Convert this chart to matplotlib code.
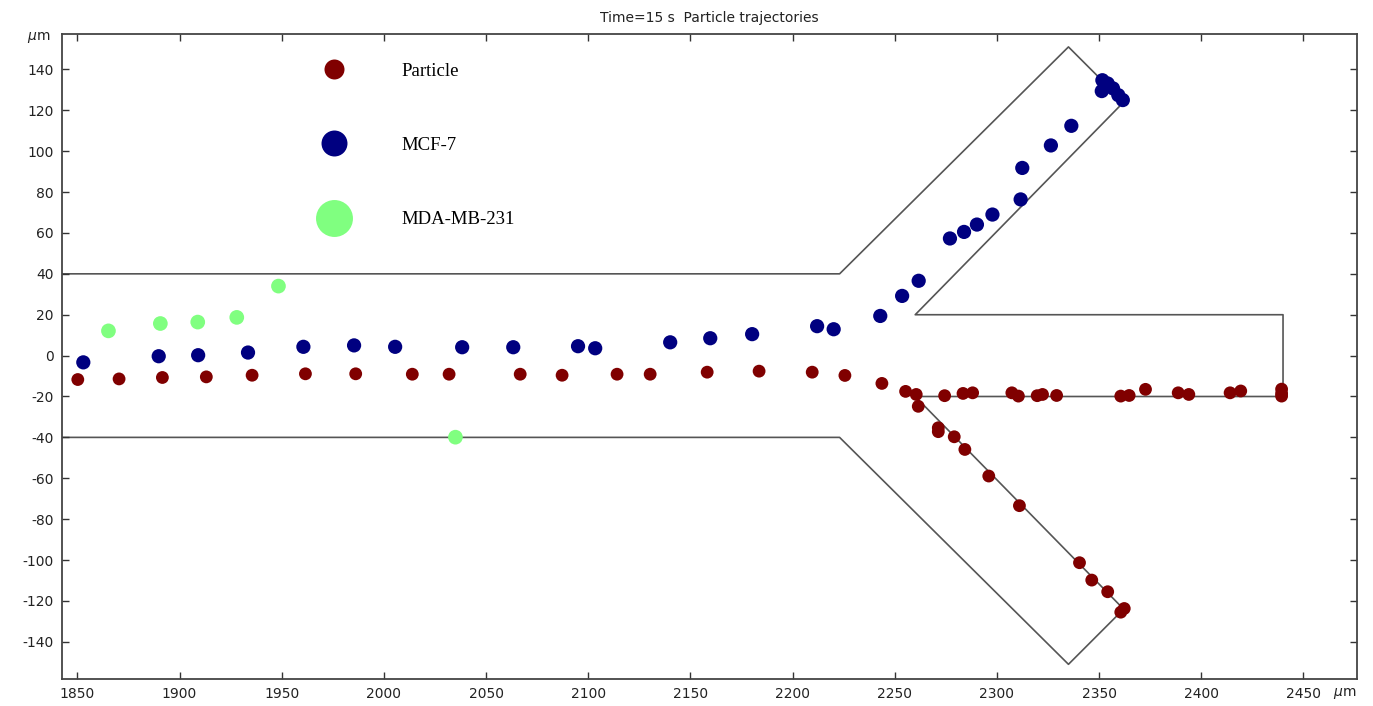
import numpy as np
import matplotlib
matplotlib.use("Agg")
import matplotlib.pyplot as plt
from matplotlib.lines import Line2D

plt.rcParams["axes.unicode_minus"] = False

# channel outline (um)
wall_top_x = [1800, 2223, 2335, 2362, 2260, 2440, 2440]
wall_top_y = [40, 40, 151, 124, 20, 20, -20]
wall_bot_x = [2440, 2260, 2362, 2335, 2223, 1800]
wall_bot_y = [-20, -20, -124, -151, -40, -40]

# particle positions at t = 15 s
particle_x = [1850.2, 1870.4, 1891.6, 1913.1, 1935.5, 1961.6, 1986.2, 2013.9, 2031.9, 2066.7,
              2087.2, 2114.1, 2130.3, 2158.2, 2183.6, 2209.6, 2225.6, 2243.7, 2255.3, 2260.5,
              2261.5, 2274.4, 2283.4, 2288.1, 2271.3, 2271.3, 2279.1, 2284.3, 2296.0, 2311.0,
              2307.3, 2310.5, 2319.7, 2322.3, 2329.2, 2360.6, 2364.7, 2372.7, 2388.7, 2393.9,
              2414.1, 2419.3, 2439.3, 2439.3, 2439.3, 2340.4, 2346.4, 2354.2, 2360.6, 2362.3]
particle_y = [-11.7, -11.4, -10.7, -10.4, -9.6, -8.9, -8.9, -9.1, -9.1, -9.1,
              -9.6, -9.1, -9.1, -8.1, -7.6, -8.1, -9.7, -13.6, -17.5, -19.0,
              -24.8, -19.6, -18.5, -18.2, -35.3, -37.2, -39.7, -45.9, -58.9, -73.4,
              -18.2, -19.8, -19.6, -19.0, -19.5, -19.8, -19.5, -16.5, -18.2, -19.0,
              -18.2, -17.3, -16.4, -18.5, -19.8, -101.3, -109.8, -115.5, -125.5, -123.7]

mcf7_x = [1852.9, 1889.8, 1909.1, 1933.5, 1960.6, 1985.4, 2005.5, 2038.3, 2063.3, 2095.0,
          2103.4, 2140.1, 2159.7, 2180.2, 2212.0, 2220.1, 2242.9, 2253.6, 2261.7, 2277.0,
          2283.9, 2290.2, 2297.8, 2311.6, 2312.4, 2326.4, 2336.4, 2351.6, 2351.3, 2354.2,
          2356.8, 2359.4, 2361.6]
mcf7_y = [-3.3, -0.3, 0.2, 1.5, 4.3, 5.0, 4.3, 4.1, 4.1, 4.6,
          3.6, 6.5, 8.5, 10.5, 14.4, 12.9, 19.4, 29.2, 36.6, 57.3,
          60.5, 64.1, 69.0, 76.4, 91.8, 102.8, 112.4, 134.7, 129.4, 133.1,
          130.7, 127.4, 125.0]

mda_x = [1865.2, 1890.6, 1908.9, 1928.0, 1948.4, 2035.0]
mda_y = [12.1, 15.7, 16.4, 18.7, 34.0, -39.9]

labels = ["Particle", "MCF-7", "MDA-MB-231"]
colors = ["#800000", "#000080", "#80ff80"]

fig = plt.figure(figsize=(13.73, 7.06), dpi=100)
ax = fig.add_axes([0.0452, 0.0382, 0.9430, 0.9136])

wall_kw = dict(color="#555555", lw=1.2, zorder=1)
ax.plot(wall_top_x, wall_top_y, **wall_kw)
ax.plot(wall_bot_x, wall_bot_y, **wall_kw)

ax.scatter(particle_x, particle_y, s=85, color=colors[0], edgecolors="none", zorder=3)
ax.scatter(mcf7_x, mcf7_y, s=105, color=colors[1], edgecolors="none", zorder=3)
ax.scatter(mda_x, mda_y, s=112, color=colors[2], edgecolors="none", zorder=3)

ax.set_xlim(1842.5, 2476.1)
ax.set_ylim(-158.2, 157.3)
ax.set_xticks(np.arange(1850, 2451, 50))
ax.set_yticks(np.arange(-140, 141, 20))
ax.tick_params(direction="in", top=True, right=True, length=5, width=1,
               labelsize=10, colors="#333333", labelcolor="#222222", pad=6)
for sp in ax.spines.values():
    sp.set_color("#444444")
    sp.set_linewidth(1.3)

ax.set_title("Time=15 s  Particle trajectories", fontsize=10, color="#222222", pad=9)
ax.text(-0.018, 0.994, r"$\mu$m", transform=ax.transAxes, ha="center", va="center",
        fontsize=10, color="#222222")
ax.text(0.991, -0.022, r"$\mu$m", transform=ax.transAxes, ha="center", va="center",
        fontsize=10, color="#222222")

handles = [Line2D([], [], ls="", marker="o", markersize=ms, color=c, markeredgewidth=0)
           for ms, c in zip([14.4, 18.7, 26.6], colors)]
ax.legend(handles, labels, loc="upper left", bbox_to_anchor=(0.1956, 0.956),
          frameon=False, borderpad=0, borderaxespad=0, handlelength=2.0,
          handletextpad=2.6, labelspacing=3.05,
          prop={"family": "Liberation Serif", "size": 13.5})

fig.savefig("out.png", dpi=100)
